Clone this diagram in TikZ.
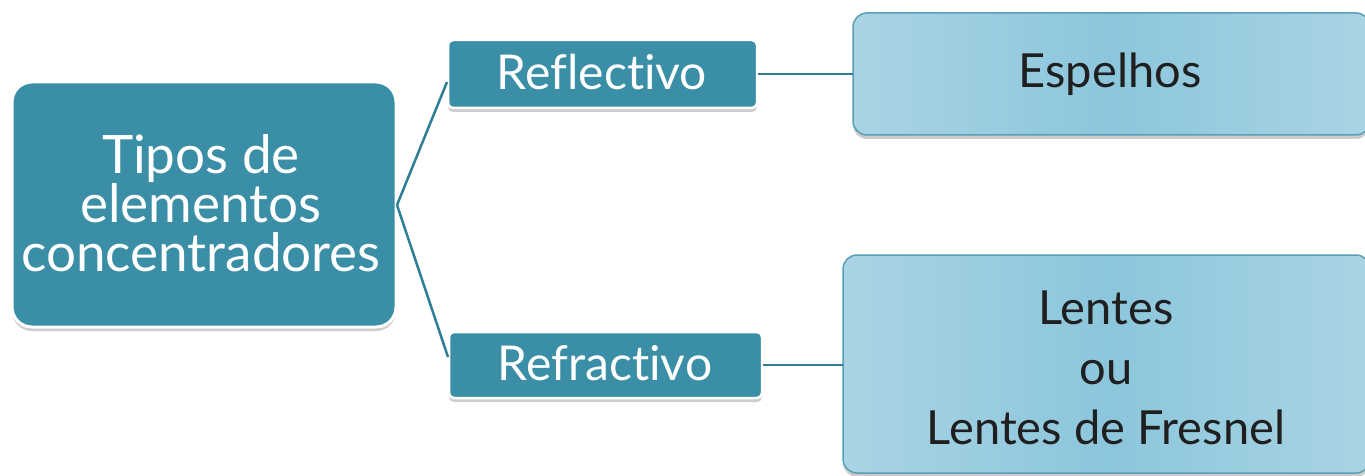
\documentclass[tikz,border=0pt]{standalone}
\usepackage{fontspec}
\setmainfont{Lato}[Ligatures={NoCommon}]
\usetikzlibrary{shadows}
\definecolor{teal1}{HTML}{3A8FA6}
\definecolor{lineC}{HTML}{2E7F95}
\definecolor{lb1}{HTML}{A9D4E4}
\definecolor{lb2}{HTML}{8CC6DC}
\definecolor{lbEdge}{HTML}{5A9FB6}
\begin{document}
\begin{tikzpicture}[x=1pt,y=-1pt,
  mainbox/.style={draw=white, line width=3pt, fill=teal1, rounded corners=20pt,
    drop shadow={shadow xshift=0pt, shadow yshift=-4pt, opacity=0.4}},
  catbox/.style={draw=white, line width=2.5pt, fill=teal1, rounded corners=5pt,
    drop shadow={shadow xshift=0pt, shadow yshift=-4pt, opacity=0.4}},
  resbox/.style={draw=lbEdge, line width=1.5pt, left color=lb1, right color=lb1, middle color=lb2, rounded corners=14pt,
    drop shadow={shadow xshift=0pt, shadow yshift=-4pt, opacity=0.4}},
  wtxt/.style={text=white, font=\fontsize{53}{49}\selectfont, align=center},
  ctxt/.style={text=white, font=\fontsize{48}{50}\selectfont},
  btxt/.style={text=black!88, font=\fontsize{47}{60}\selectfont, align=center},
  conn/.style={draw=lineC, line width=2.5pt}]
\useasboundingbox (0,0) rectangle (1365,476);
\fill[white] (0,0) rectangle (1365,476);
% boxes
\path[mainbox] (12,82) rectangle (396,327);
\node[wtxt] (main) at (201,203) {Tipos de\\elementos\\concentradores};
\coordinate (mainR) at (397,205);
\path[catbox] (448,40) rectangle (757,108);
\node[ctxt] (refl) at (602,72) {Reflectivo};
\path[catbox] (449,332) rectangle (762,398);
\node[ctxt] (refr) at (605,363) {Refractivo};
\path[resbox] (853,13) rectangle (1370,135);
\node[btxt] (esp) at (1110,74) {Espelhos};
\path[resbox] (843,255) rectangle (1370,473);
\node[btxt] (len) at (1106,368) {Lentes\\ou\\Lentes de Fresnel};
% connectors
\coordinate (reflL) at (447,82);
\coordinate (refrL) at (448,357);
\coordinate (reflR) at (758,74);
\coordinate (espL) at (853,74);
\coordinate (refrR) at (763,365);
\coordinate (lenL) at (843,365);
\draw[conn] (mainR) -- (reflL);
\draw[conn] (mainR) -- (refrL);
\draw[conn] (reflR) -- (espL);
\draw[conn] (refrR) -- (lenL);
\end{tikzpicture}
\end{document}
